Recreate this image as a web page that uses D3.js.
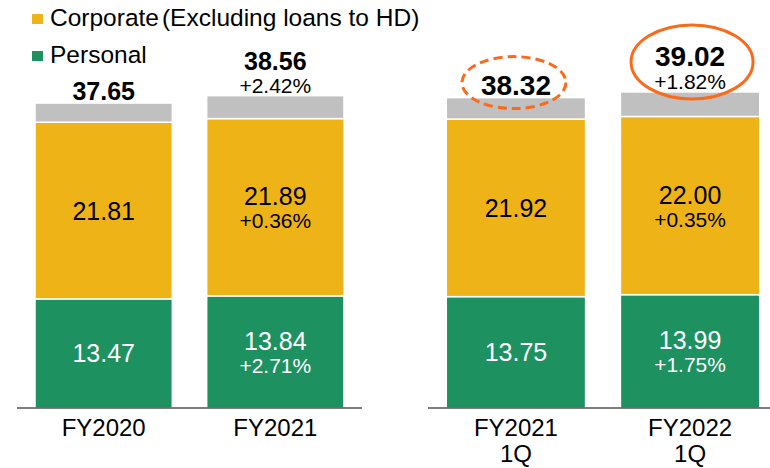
<!DOCTYPE html>
<html>
<head>
<meta charset="utf-8">
<script src="https://cdn.jsdelivr.net/npm/d3@7"></script>
<style>
  html, body { margin: 0; padding: 0; background: #fff; }
  svg { display: block; font-family: "Liberation Sans", Arial, sans-serif; }
</style>
</head>
<body>
<svg width="770" height="468"></svg>
<script>
// values
var categories = ["FY2020", "FY2021", "FY2021 1Q", "FY2022 1Q"];
var groups = [["FY2020", "FY2021"], ["FY2021 1Q", "FY2022 1Q"]];
var personal = [13.47, 13.84, 13.75, 13.99];
var corporate = [21.81, 21.89, 21.92, 22.00];
var totals = [37.65, 38.56, 38.32, 39.02];
var personalChg = [null, "+2.71%", null, "+1.75%"];
var corporateChg = [null, "+0.36%", null, "+0.35%"];
var totalChg = [null, "+2.42%", null, "+1.82%"];

var green = "#1e9160", yellow = "#eeb316", grey = "#c0c0c0", orange = "#fb6a1a";

var svg = d3.select("svg");
var baseY = 408;
var y = d3.scaleLinear().domain([0, 40]).range([baseY, 84]);

var xLeft = d3.scaleBand().domain(groups[0]).range([17, 362]).paddingInner(0.2).paddingOuter(0.105);
var xRight = d3.scaleBand().domain(groups[1]).range([428, 778]).paddingInner(0.2).paddingOuter(0.105);
function inLeft(c) { return groups[0].indexOf(c) >= 0; }
function xOf(c) { return inLeft(c) ? xLeft(c) : xRight(c); }
function bwOf(c) { return inLeft(c) ? xLeft.bandwidth() : xRight.bandwidth(); }

var rows = categories.map(function(c, i) {
    return {cat: c, i: i, p: personal[i], c: corporate[i], t: totals[i]};
});

// stacked segments (grey = remainder up to the total)
var segs = [];
rows.forEach(function(d) {
    segs.push({d: d, y0: 0, y1: d.p, col: green});
    segs.push({d: d, y0: d.p, y1: d.p + d.c, col: yellow});
    segs.push({d: d, y0: d.p + d.c, y1: d.t, col: grey});
});

svg.selectAll("rect.seg")
    .data(segs)
    .enter().append("rect")
    .attr("class", "seg")
    .attr("x", function(s) { return xOf(s.d.cat); })
    .attr("width", function(s) { return bwOf(s.d.cat); })
    .attr("y", function(s) { return y(s.y1); })
    .attr("height", function(s) { return y(s.y0) - y(s.y1); })
    .style("fill", function(s) { return s.col; })
    .style("stroke", "#fff")
    .style("stroke-width", 1.5);

// baselines for both groups
svg.append("line").attr("x1", 17).attr("x2", 362).attr("y1", baseY).attr("y2", baseY)
    .style("stroke", "#000").style("stroke-width", 1.2);
svg.append("line").attr("x1", 428).attr("x2", 770).attr("y1", baseY).attr("y2", baseY)
    .style("stroke", "#000").style("stroke-width", 1.2);

function cx(d) { return xOf(d.cat) + bwOf(d.cat) / 2; }

// labels inside segments
function segLabel(val, chg, lo, hi, fill) {
    rows.forEach(function(d, i) {
	var mid = (y(lo(d)) + y(hi(d))) / 2;
	var g = svg.append("g").attr("transform", "translate(" + cx(d) + ",0)");
	if (chg[i]) {
	    g.append("text").attr("y", mid - 2).attr("text-anchor", "middle")
		.style("font-size", "25px").style("fill", fill).text(val[i].toFixed(2));
	    g.append("text").attr("y", mid + 21).attr("text-anchor", "middle")
		.style("font-size", "21px").style("fill", fill).text(chg[i]);
	} else {
	    g.append("text").attr("y", mid + 9).attr("text-anchor", "middle")
		.style("font-size", "25px").style("fill", fill).text(val[i].toFixed(2));
	}
    });
}
segLabel(personal, personalChg, function(d) { return 0; }, function(d) { return d.p; }, "#fff");
segLabel(corporate, corporateChg, function(d) { return d.p; }, function(d) { return d.p + d.c; }, "#000");

// totals on top
var topPos = [];
rows.forEach(function(d, i) {
    var top = y(d.t);
    var fs = i >= 2 ? "28px" : "25px";
    var g = svg.append("g").attr("transform", "translate(" + cx(d) + ",0)");
    if (totalChg[i]) {
	g.append("text").attr("y", top - 3).attr("text-anchor", "middle")
	    .style("font-size", "21px").text(totalChg[i]);
	g.append("text").attr("y", top - 26).attr("text-anchor", "middle")
	    .style("font-size", fs).style("font-weight", "bold").text(d.t.toFixed(2));
	topPos.push({x: cx(d) + 2, y: top - 30});
    } else {
	g.append("text").attr("y", top - 3).attr("text-anchor", "middle")
	    .style("font-size", fs).style("font-weight", "bold").text(d.t.toFixed(2));
	topPos.push({x: cx(d) - 2, y: top - 15});
    }
});

// highlight ellipses on the 1Q totals
svg.append("ellipse")
    .attr("cx", topPos[2].x).attr("cy", topPos[2].y).attr("rx", 52).attr("ry", 26)
    .style("fill", "none").style("stroke", orange).style("stroke-width", 3)
    .style("stroke-dasharray", "9,5");
svg.append("ellipse")
    .attr("cx", topPos[3].x).attr("cy", topPos[3].y).attr("rx", 61).attr("ry", 37)
    .style("fill", "none").style("stroke", orange).style("stroke-width", 3);

// category labels, second line for quarter
rows.forEach(function(d) {
    var parts = d.cat.split(" ");
    parts.forEach(function(p, k) {
	svg.append("text").attr("x", cx(d)).attr("y", baseY + 28 + k * 26)
	    .attr("text-anchor", "middle").style("font-size", "24px").text(p);
    });
});

// legend
var legend = [{name: "Corporate", extra: "(Excluding loans to HD)", col: yellow, y: 26},
	      {name: "Personal", extra: "", col: green, y: 63}];
var lg = svg.selectAll("g.legend").data(legend).enter().append("g").attr("class", "legend");
lg.append("rect").attr("x", 32).attr("y", function(d) { return d.y - 12; })
    .attr("width", 11).attr("height", 10).style("fill", function(d) { return d.col; });
var lt = lg.append("text").attr("x", 50).attr("y", function(d) { return d.y; })
    .style("font-size", "24.5px").style("fill", "#000");
lt.append("tspan").text(function(d) { return d.name; });
lt.append("tspan").attr("dx", 3).text(function(d) { return d.extra; });
</script>
</body>
</html>
